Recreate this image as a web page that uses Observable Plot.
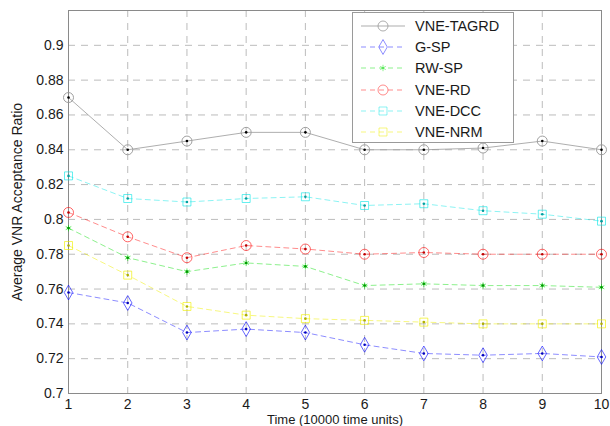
<!DOCTYPE html>
<html><head><meta charset="utf-8">
<script src="https://cdn.jsdelivr.net/npm/d3@7"></script>
<script src="https://cdn.jsdelivr.net/npm/@observablehq/plot@0.6"></script>
<style>
body{margin:0;background:#fff;font-family:"Liberation Sans",Arial,sans-serif;}
#wrap{position:relative;width:610px;height:426px;overflow:hidden;}
#legend{position:absolute;left:352px;top:12px;width:162px;height:131px;border:1px solid #9a9a9a;background:#fff;box-sizing:border-box;}
.row{position:absolute;left:0;height:20px;width:160px;}
.row svg{position:absolute;left:6px;top:0;}
.row span{position:absolute;left:62px;top:2px;font-size:14.5px;color:#1a1a1a;line-height:16px;}
</style>
</head><body>
<div id="wrap"><div id="chart"></div><div id="legend"></div></div>
<script>
// ---- data ----
const times = [1, 2, 3, 4, 5, 6, 7, 8, 9, 10];
const seriesNames = ["VNE-TAGRD", "G-SP", "RW-SP", "VNE-RD", "VNE-DCC", "VNE-NRM"];
const vneTagrd = [0.870, 0.840, 0.845, 0.850, 0.850, 0.840, 0.840, 0.841, 0.845, 0.840];
const gSp      = [0.758, 0.752, 0.735, 0.737, 0.735, 0.728, 0.723, 0.722, 0.723, 0.721];
const rwSp     = [0.795, 0.778, 0.770, 0.775, 0.773, 0.762, 0.763, 0.762, 0.762, 0.761];
const vneRd    = [0.804, 0.790, 0.778, 0.785, 0.783, 0.780, 0.781, 0.780, 0.780, 0.780];
const vneDcc   = [0.825, 0.812, 0.810, 0.812, 0.813, 0.808, 0.809, 0.805, 0.803, 0.799];
const vneNrm   = [0.785, 0.768, 0.750, 0.745, 0.743, 0.742, 0.741, 0.740, 0.740, 0.740];
const xTicks = [1, 2, 3, 4, 5, 6, 7, 8, 9, 10];
const yTicks = [0.7, 0.72, 0.74, 0.76, 0.78, 0.8, 0.82, 0.84, 0.86, 0.88, 0.9];
const xLabel = "Time (10000 time units)";
const yLabel = "Average VNR Acceptance Ratio";

// ---- styles ----
const seriesValues = [vneTagrd, gSp, rwSp, vneRd, vneDcc, vneNrm];
const styles = [
  {color: "#9a9a9a", dot: "#000", symbol: "circle", r: 5, dash: null, op: 0.8},
  {color: "#0000ff", dot: "#0000c0", symbol: "diamond", r: 4.5, dash: "5,4", op: 0.45},
  {color: "#00dd00", dot: "#009900", symbol: "asterisk", r: 3, dash: "5,4", op: 0.45},
  {color: "#ff0000", dot: "#c00000", symbol: "circle", r: 5, dash: "5,4", op: 0.45},
  {color: "#00e5e5", dot: "#00a0a0", symbol: "square", r: 4.5, dash: "5,4", op: 0.45},
  {color: "#f0f000", dot: "#b0b000", symbol: "square", r: 4.5, dash: "5,4", op: 0.5}
];

const marks = [
  Plot.ruleX(xTicks, {stroke: "#bcbcbc", strokeDasharray: "7,6"}),
  Plot.ruleY(yTicks, {stroke: "#bcbcbc", strokeDasharray: "7,6"}),
  Plot.frame({stroke: "#8a8a8a"}),
  Plot.axisX(xTicks, {tickSize: 0, tickPadding: 6, fontSize: 14, fill: "#1a1a1a",
    tickFormat: d => String(d), label: null}),
  Plot.axisY(yTicks, {tickSize: 0, tickPadding: 5, fontSize: 14, fill: "#1a1a1a",
    tickFormat: d => String(+d.toFixed(2)), label: yLabel, labelAnchor: "center", labelArrow: "none", labelOffset: 56}),
  Plot.text([xLabel], {frameAnchor: "bottom", dy: 30, text: d => d, fontSize: 13, fill: "#1a1a1a", lineAnchor: "bottom"})
];

seriesNames.forEach((name, i) => {
  const s = styles[i];
  const data = times.map((t, j) => ({t, v: seriesValues[i][j], name}));
  marks.push(Plot.line(data, {x: "t", y: "v", stroke: s.color, strokeWidth: 1, strokeOpacity: s.op,
    strokeDasharray: s.dash || undefined}));
  marks.push(Plot.dot(data, {x: "t", y: "v", symbol: s.symbol, r: s.r, stroke: s.color, strokeWidth: 1, strokeOpacity: Math.min(1, s.op + 0.15), fill: "none"}));
  marks.push(Plot.dot(data, {x: "t", y: "v", r: 1.3, fill: s.dot, stroke: "none"}));
});

const chart = Plot.plot({
  width: 610, height: 426,
  marginLeft: 68, marginRight: 9, marginTop: 10, marginBottom: 33,
  x: {domain: [1, 10]},
  y: {domain: [0.7, 0.92]},
  style: {fontFamily: "'Liberation Sans', Arial, sans-serif", background: "#fff", overflow: "visible"},
  marks
});
document.getElementById("chart").appendChild(chart);

// ---- legend ----
const legend = document.getElementById("legend");
const symMap = {circle: d3.symbolCircle, diamond: d3.symbolDiamond, asterisk: d3.symbolAsterisk, square: d3.symbolSquare};
seriesNames.forEach((name, i) => {
  const s = styles[i];
  const row = document.createElement("div");
  row.className = "row";
  row.style.top = (3 + i * 21.2) + "px";
  const size = Math.PI * s.r * s.r;
  const path = d3.symbol(symMap[s.symbol], size)();
  row.innerHTML = `<svg width="52" height="20"><line x1="2" x2="46" y1="10" y2="10" stroke="${s.color}" stroke-opacity="${s.op}" ${s.dash ? `stroke-dasharray="${s.dash}"` : ""}/>` +
    `<path d="${path}" transform="translate(24,10)" fill="none" stroke="${s.color}" stroke-opacity="${s.op}"/></svg><span>${name}</span>`;
  legend.appendChild(row);
});
</script>
</body></html>
